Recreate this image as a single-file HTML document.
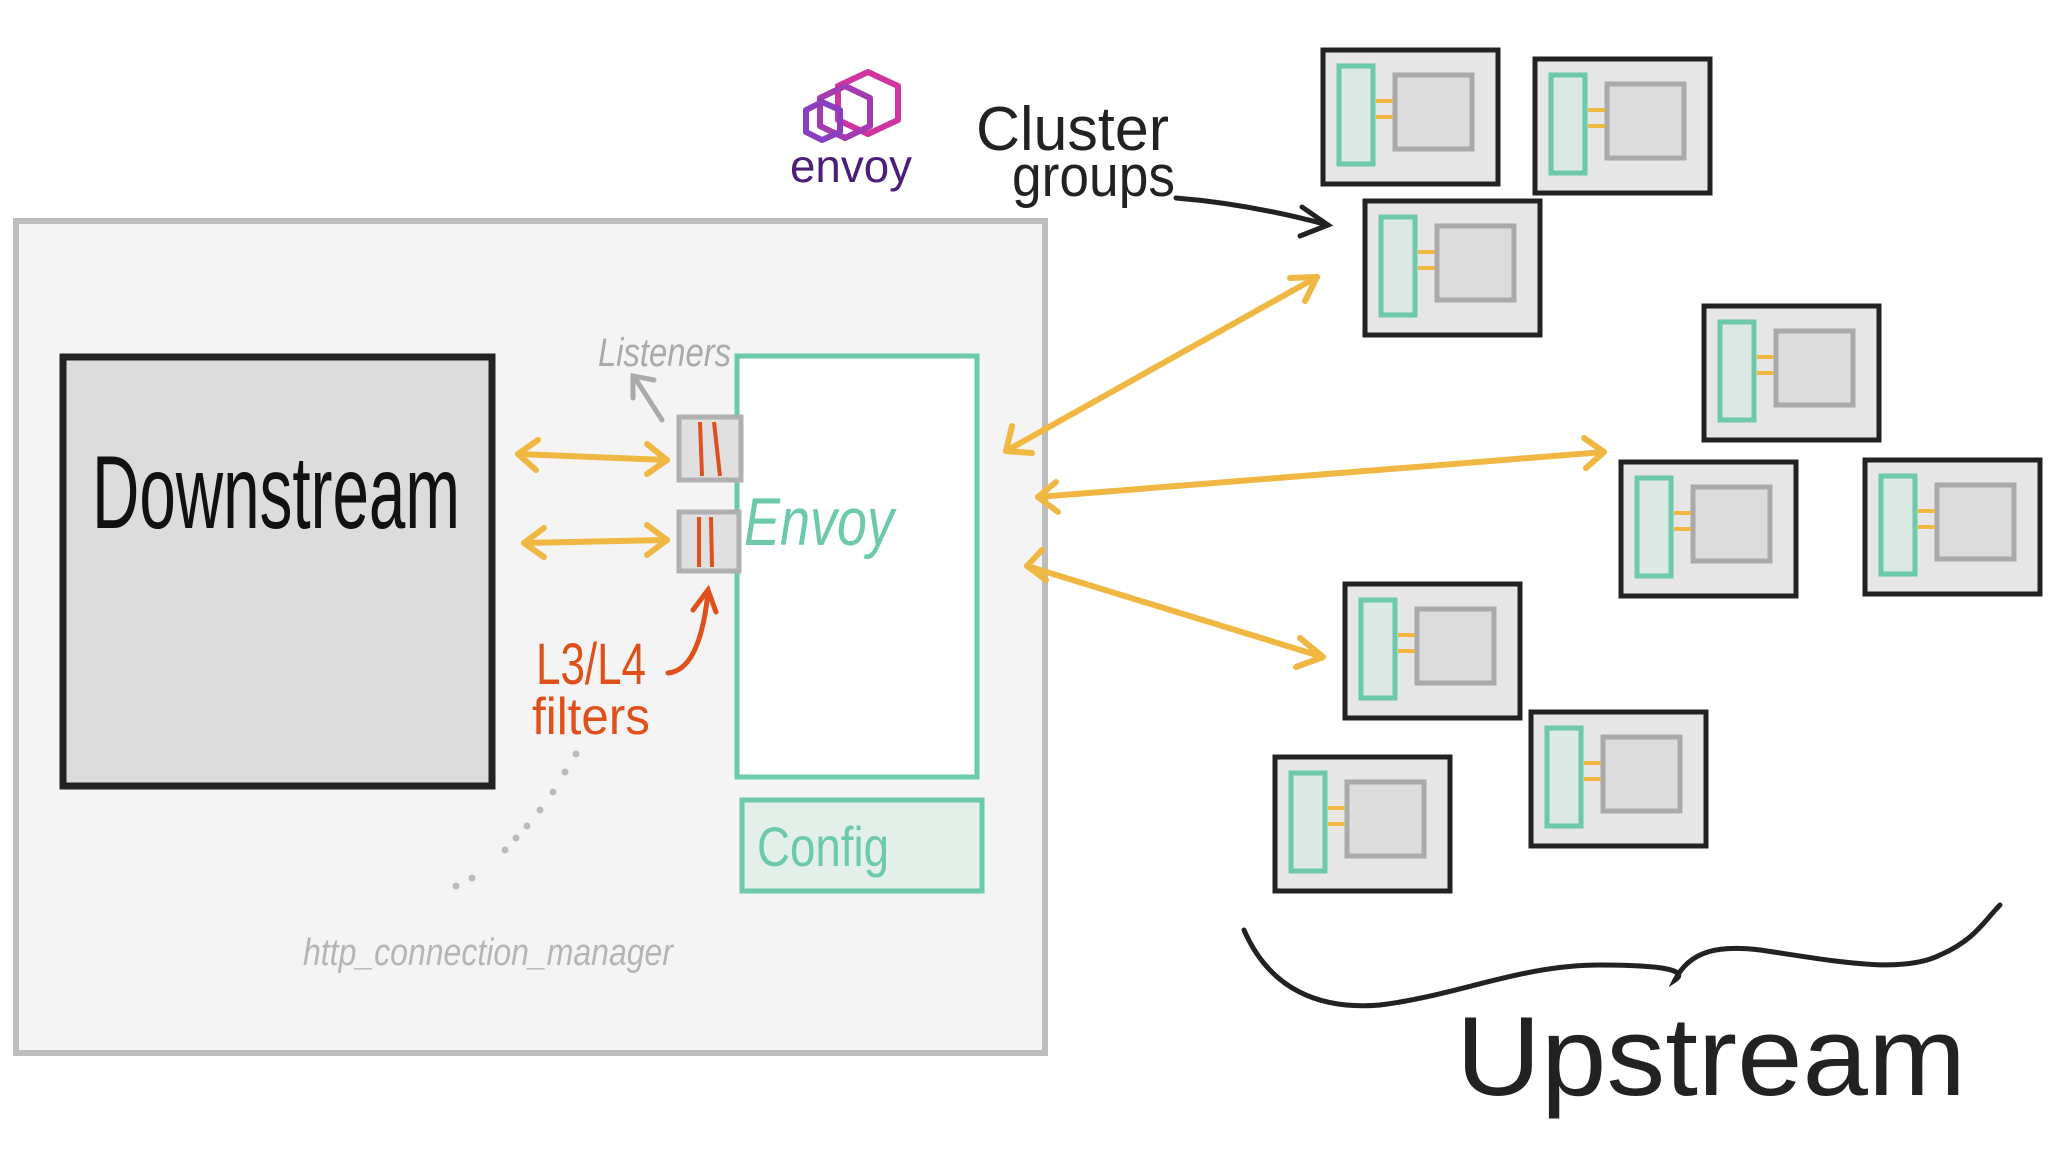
<!DOCTYPE html>
<html><head><meta charset="utf-8"><style>
html,body{margin:0;padding:0;background:#fff;}
svg{display:block;}
text{font-family:"Liberation Sans",sans-serif;}
</style></head><body>
<svg width="2048" height="1152" viewBox="0 0 2048 1152" xmlns="http://www.w3.org/2000/svg">
<defs>
<g id="cl">
 <rect x="0" y="0" width="175" height="134" fill="#e6e6e6" stroke="#222" stroke-width="5"/>
 <rect x="16" y="16" width="34" height="98" fill="#dce8e3" stroke="#6cc9a9" stroke-width="5"/>
 <rect x="72" y="25" width="77" height="74" fill="#dcdcdc" stroke="#aaa" stroke-width="5"/>
 <line x1="53" y1="51" x2="70" y2="51" stroke="#f0b843" stroke-width="4"/>
 <line x1="53" y1="67" x2="70" y2="67" stroke="#f0b843" stroke-width="4"/>
</g>
</defs>

<rect x="16" y="221" width="1029" height="832" fill="#f4f4f4" stroke="#bdbdbd" stroke-width="6"/>

<rect x="63" y="357" width="429" height="429" fill="#dcdcdc" stroke="#222" stroke-width="7"/>
<text x="92" y="528" font-size="104" fill="#111" textLength="368" lengthAdjust="spacingAndGlyphs">Downstream</text>

<rect x="737" y="356" width="240" height="421" fill="#fff" stroke="#6cc9a9" stroke-width="5"/>
<text x="744" y="545" font-size="68" fill="#6cc9a9" font-style="italic" textLength="150" lengthAdjust="spacingAndGlyphs">Envoy</text>
<rect x="742" y="800" width="240" height="91" fill="#e3f0ea" stroke="#6cc9a9" stroke-width="5"/>
<text x="757" y="866" font-size="56" fill="#6cc9a9" textLength="132" lengthAdjust="spacingAndGlyphs">Config</text>

<rect x="679" y="417" width="62" height="63" fill="#e0e0e0" stroke="#b0b0b0" stroke-width="5"/>
<line x1="700" y1="422" x2="702" y2="476" stroke="#e0501a" stroke-width="4"/>
<line x1="714" y1="422" x2="720" y2="476" stroke="#e0501a" stroke-width="4"/>
<rect x="679" y="512" width="60" height="59" fill="#e0e0e0" stroke="#b0b0b0" stroke-width="5"/>
<line x1="699" y1="517" x2="699" y2="567" stroke="#e0501a" stroke-width="4"/>
<line x1="711" y1="517" x2="712" y2="567" stroke="#e0501a" stroke-width="4"/>
<text x="598" y="366" font-size="40" fill="#aaa" font-style="italic" textLength="133" lengthAdjust="spacingAndGlyphs">Listeners</text>
<g stroke="#aaa" stroke-width="5" fill="none" stroke-linecap="round">
<line x1="662" y1="420" x2="635" y2="378"/><polyline points="633,398 633,376 654,380"/>
</g>

<g stroke="#f0b843" stroke-width="6" fill="none" stroke-linecap="round" stroke-linejoin="round">
<line x1="518" y1="454" x2="667" y2="460"/><polyline points="538,440 518,454 536,470"/><polyline points="647,444 667,460 647,474"/>
<line x1="524" y1="543" x2="667" y2="540"/><polyline points="544,528 524,543 544,557"/><polyline points="647,525 667,540 647,555"/>
<line x1="1006" y1="451" x2="1317" y2="277"/><polyline points="1012,426 1006,451 1032,453"/><polyline points="1290,278 1317,277 1305,301"/>
<line x1="1038" y1="497" x2="1604" y2="452"/><polyline points="1056,482 1038,497 1058,512"/><polyline points="1584,438 1604,452 1586,468"/>
<line x1="1027" y1="566" x2="1323" y2="657"/><polyline points="1042,550 1027,566 1046,580"/><polyline points="1300,638 1323,657 1296,667"/>
</g>

<text x="536" y="684" font-size="58" fill="#e0501a" textLength="110" lengthAdjust="spacingAndGlyphs">L3/L4</text>
<text x="532" y="734" font-size="52" fill="#e0501a" textLength="118" lengthAdjust="spacingAndGlyphs">filters</text>
<g stroke="#e0501a" stroke-width="5" fill="none" stroke-linecap="round">
<path d="M668,673 Q700,670 708,592"/><polyline points="693,610 708,590 716,612"/>
</g>

<g fill="#bbb">
<circle cx="576" cy="754" r="3.5"/><circle cx="565" cy="772" r="3.5"/><circle cx="553" cy="792" r="3.5"/>
<circle cx="540" cy="810" r="3.5"/><circle cx="527" cy="826" r="3.5"/><circle cx="516" cy="838" r="3.5"/><circle cx="505" cy="850" r="3.5"/>
<circle cx="472" cy="878" r="3.5"/><circle cx="456" cy="886" r="3.5"/>
</g>
<text x="303" y="965" font-size="38" fill="#b5b5b5" font-style="italic" textLength="370" lengthAdjust="spacingAndGlyphs">http_connection_manager</text>

<g fill="none" stroke-width="6" stroke-linejoin="round">
<polygon points="868,72 898,86 898,120 868,134 838,120 838,86" stroke="#d0359f"/>
<polygon points="845,86 870,98 870,126 845,138 820,126 820,98" stroke="#a43bb0"/>
<polygon points="822,102 840,110 840,132 822,140 806,132 806,110" stroke="#8b3ec0"/>
</g>
<text x="790" y="182" font-size="46" fill="#4b1e77" textLength="122" lengthAdjust="spacingAndGlyphs">envoy</text>

<text x="976" y="150" font-size="62" fill="#222" textLength="193" lengthAdjust="spacingAndGlyphs">Cluster</text>
<text x="1012" y="196" font-size="58" fill="#222" textLength="163" lengthAdjust="spacingAndGlyphs">groups</text>
<g stroke="#222" stroke-width="5" fill="none" stroke-linecap="round">
<path d="M1176,198 Q1250,204 1328,225"/><polyline points="1302,207 1328,225 1300,236"/>
</g>

<use href="#cl" x="1323" y="50"/>
<use href="#cl" x="1535" y="59"/>
<use href="#cl" x="1365" y="201"/>
<use href="#cl" x="1704" y="306"/>
<use href="#cl" x="1621" y="462"/>
<use href="#cl" x="1865" y="460"/>
<use href="#cl" x="1345" y="584"/>
<use href="#cl" x="1531" y="712"/>
<use href="#cl" x="1275" y="757"/>

<path d="M1244,930 C1270,990 1320,1010 1380,1005 C1460,995 1520,965 1600,965 C1660,965 1690,970 1675,980 C1690,950 1720,945 1760,950 C1830,960 1900,975 1940,955 C1975,940 1985,920 2000,905" stroke="#222" stroke-width="5" fill="none" stroke-linecap="round"/>
<text x="1456" y="1095" font-size="112" fill="#222" textLength="510" lengthAdjust="spacingAndGlyphs">Upstream</text>
</svg>
</body></html>
